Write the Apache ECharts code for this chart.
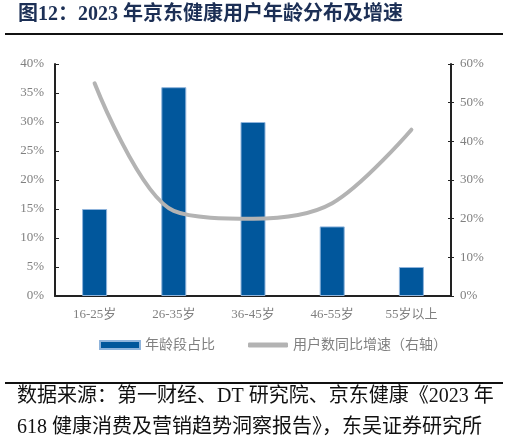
<!DOCTYPE html>
<html><head><meta charset="utf-8">
<script src="https://cdn.jsdelivr.net/npm/echarts@6/dist/echarts.min.js"></script>
<style>html,body{margin:0;padding:0;background:#fff}#c{width:509px;height:443px}</style>
</head><body><div id="c"></div>
<script>
const categories = ['16-25岁','26-35岁','36-45岁','46-55岁','55岁以上'];
const shareValues = [15, 36, 30, 12, 5];
const growthValues = [55, 22, 20, 24, 43];
const titleText = '图12：2023 年京东健康用户年龄分布及增速';
const sourceLine1 = '数据来源：第一财经、DT 研究院、京东健康《2023 年';
const sourceLine2 = '618 健康消费及营销趋势洞察报告》，东吴证券研究所';
const legendBarName = '年龄段占比';
const legendLineName = '用户数同比增速（右轴）';

const FONT = '"Liberation Serif","Noto Sans CJK SC",serif';
const chart = echarts.init(document.getElementById('c'));
const axisLabelStyle = {color:'#808080', fontFamily:FONT, fontSize:13};
const legendText = {color:'#808080', fontFamily:FONT, fontSize:14};
chart.setOption({
  animation:false,
  grid: {left:55, right:58, top:64, bottom:147},
  legend: [
    {left: 94, top: 333, itemWidth: 40, itemHeight: 8, itemGap: 0,
     textStyle: legendText, data:[{name:legendBarName, icon:'rect'}]},
    {left: 243, top: 333, itemWidth: 40, itemHeight: 5, itemGap: 0,
     textStyle: legendText, data:[{name:legendLineName, icon:'roundRect'}]}
  ],
  xAxis: {
    type:'category', data:categories,
    axisLine:{lineStyle:{color:'#222', width:2}},
    axisTick:{inside:true, length:4, lineStyle:{color:'#222'}},
    axisLabel:Object.assign({margin:12}, axisLabelStyle)
  },
  yAxis: [
    {type:'value', min:0, max:40, interval:5, position:'left',
     axisLine:{show:true, lineStyle:{color:'#222', width:2}},
     axisTick:{show:true, inside:true, length:4, lineStyle:{color:'#222'}},
     splitLine:{show:false},
     axisLabel:Object.assign({formatter:v=>v+'%', margin:11}, axisLabelStyle)},
    {type:'value', min:0, max:60, interval:10, position:'right',
     axisLine:{show:true, lineStyle:{color:'#222', width:2}},
     axisTick:{show:true, inside:false, length:3, lineStyle:{color:'#222'}},
     splitLine:{show:false},
     axisLabel:Object.assign({formatter:v=>v+'%', margin:9}, axisLabelStyle)},
    {type:'value', min:0, max:60, interval:10, position:'right',
     axisLine:{show:false},
     axisTick:{show:true, inside:true, length:3, lineStyle:{color:'#222'}},
     splitLine:{show:false}, axisLabel:{show:false}}
  ],
  series: [
    {name:legendBarName, type:'bar', data:shareValues, barWidth:25, yAxisIndex:0,
     itemStyle:{color:'#01579c', borderColor:'#8fb4dc', borderWidth:1}},
    {name:legendLineName, type:'line', data:growthValues, yAxisIndex:1,
     smooth:0.33, symbol:'none', z:5,
     lineStyle:{color:'#b3b3b3', width:4, cap:'round'}, itemStyle:{color:'#b3b3b3'}}
  ],
  graphic: [
    {type:'text', left:18, top:5, z:10, style:{text:titleText, fill:'#1c2f55', font:'bold 20px '+FONT}},
    {type:'rect', left:5, top:33, z:10, shape:{x:0, y:0, width:498, height:2}, style:{fill:'#111111'}},
    {type:'rect', left:5, top:382, z:10, shape:{x:0, y:0, width:498, height:2}, style:{fill:'#111111'}},
    {type:'text', left:17, top:387, z:10, style:{text:sourceLine1, fill:'#111', font:'20px '+FONT}},
    {type:'text', left:17, top:418, z:10, style:{text:sourceLine2, fill:'#111', font:'20px '+FONT}}
  ]
});
</script></body></html>
